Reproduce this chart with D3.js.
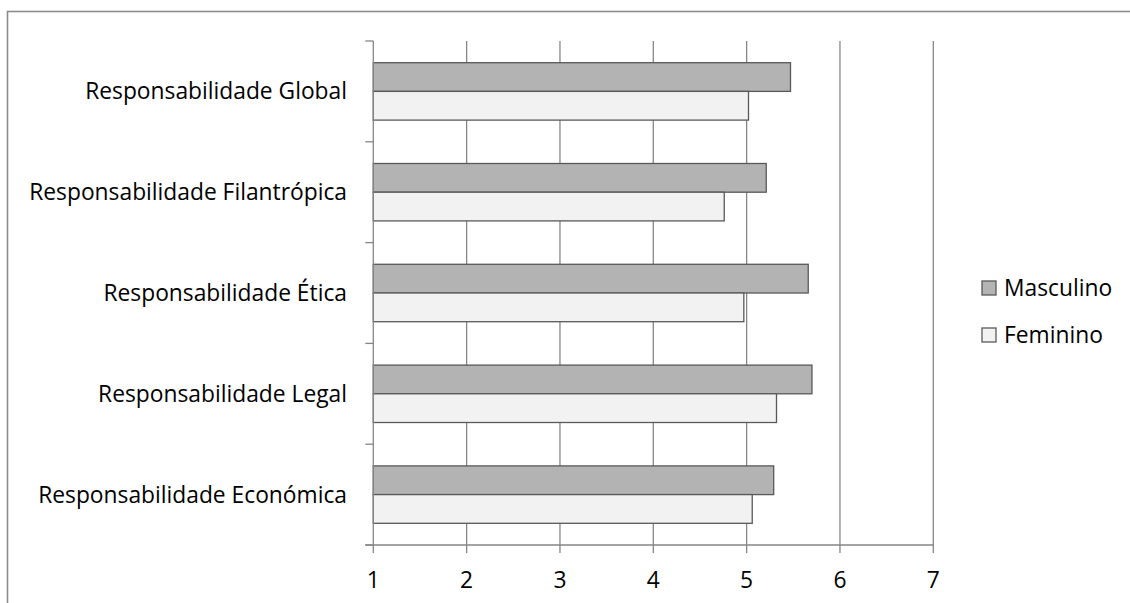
<!DOCTYPE html>
<html>
<head>
<meta charset="utf-8">
<script src="https://cdn.jsdelivr.net/npm/d3@7"></script>
<style>
  html, body { margin: 0; padding: 0; background: #fff; }
  svg { display: block; }
  text { font-family: "Open Sans", Lato, sans-serif; fill: #000; }
</style>
</head>
<body>
<svg id="chart" width="1130" height="603"></svg>
<script>
// Categories, top to bottom
const categories = [
  "Responsabilidade Global",
  "Responsabilidade Filantrópica",
  "Responsabilidade Ética",
  "Responsabilidade Legal",
  "Responsabilidade Económica"
];
const series = ["Masculino", "Feminino"];
const masculino = [5.47, 5.21, 5.66, 5.70, 5.29];
const feminino  = [5.02, 4.76, 4.97, 5.32, 5.06];
const xTicks = [1, 2, 3, 4, 5, 6, 7];

const colors = { Masculino: "#b3b3b3", Feminino: "#f2f2f2" };
const barStroke = "#595959";
const gridColor = "#868686";

const svg = d3.select("#chart");

// pick a font size so the category labels keep a Calibri-like width
const probe = svg.append("text").style("font-size", "20px").text(categories[0]);
const fontPx = 20 * 262 / probe.node().getComputedTextLength();
probe.remove();

// outer frame
svg.append("rect")
  .attr("x", 7.5).attr("y", 11.5)
  .attr("width", 1140).attr("height", 620)
  .attr("fill", "none").attr("stroke", "#8c8c8c").attr("stroke-width", 1.6);

const x = d3.scaleLinear().domain([1, 7]).range([373.3, 933.3]);
const y = d3.scaleBand().domain(categories).range([41, 545]).padding(0);
const ySub = d3.scaleBand().domain(series).range([0, y.bandwidth()])
  .paddingInner(0).paddingOuter(0.756);

const rows = categories.map((c, i) => ({ cat: c, Masculino: masculino[i], Feminino: feminino[i] }));

// vertical gridlines
svg.append("g").selectAll("line")
  .data(xTicks.slice(1))
  .join("line")
  .attr("x1", d => x(d)).attr("x2", d => x(d))
  .attr("y1", 41).attr("y2", 545)
  .attr("stroke", gridColor).attr("stroke-width", 1.3);

// bars
const groups = svg.append("g").selectAll("g")
  .data(rows)
  .join("g")
  .attr("transform", d => `translate(0,${y(d.cat)})`);

groups.selectAll("rect")
  .data(d => series.map(s => ({ s, v: d[s] })))
  .join("rect")
  .attr("x", x(1))
  .attr("y", d => ySub(d.s))
  .attr("width", d => x(d.v) - x(1))
  .attr("height", ySub.bandwidth())
  .attr("fill", d => colors[d.s])
  .attr("stroke", barStroke)
  .attr("stroke-width", 1.3);

// category axis
const yAxis = svg.append("g");
yAxis.append("line")
  .attr("x1", x(1)).attr("x2", x(1))
  .attr("y1", 41).attr("y2", 545)
  .attr("stroke", gridColor).attr("stroke-width", 1.3);
const bounds = categories.map(c => y(c)).concat([545]);
yAxis.selectAll("line.tick")
  .data(bounds)
  .join("line")
  .attr("class", "tick")
  .attr("x1", x(1) - 8).attr("x2", x(1))
  .attr("y1", d => d).attr("y2", d => d)
  .attr("stroke", gridColor).attr("stroke-width", 1.3);
yAxis.selectAll("text")
  .data(categories)
  .join("text")
  .attr("x", 347)
  .attr("y", d => y(d) + y.bandwidth() / 2)
  .attr("dy", "0.35em")
  .attr("text-anchor", "end")
  .style("font-size", fontPx + "px")
  .text(d => d);

// value axis
const xAxis = svg.append("g");
xAxis.append("line")
  .attr("x1", x(1) - 8).attr("x2", x(7))
  .attr("y1", 545).attr("y2", 545)
  .attr("stroke", gridColor).attr("stroke-width", 1.3);
xAxis.selectAll("line.tick")
  .data(xTicks)
  .join("line")
  .attr("class", "tick")
  .attr("x1", d => x(d)).attr("x2", d => x(d))
  .attr("y1", 545).attr("y2", 553)
  .attr("stroke", gridColor).attr("stroke-width", 1.3);
xAxis.selectAll("text")
  .data(xTicks)
  .join("text")
  .attr("x", d => x(d))
  .attr("y", 588)
  .attr("text-anchor", "middle")
  .style("font-size", fontPx + "px")
  .text(d => d);

// legend
const legend = svg.append("g").attr("transform", "translate(982,281)");
const li = legend.selectAll("g")
  .data(series)
  .join("g")
  .attr("transform", (d, i) => `translate(0,${i * 47})`);
li.append("rect")
  .attr("x", 0).attr("y", 0).attr("width", 14).attr("height", 14)
  .attr("fill", d => colors[d])
  .attr("stroke", barStroke).attr("stroke-width", 1.3);
li.append("text")
  .attr("x", 22).attr("y", 7)
  .attr("dy", "0.35em")
  .style("font-size", fontPx + "px")
  .text(d => d);
</script>
</body>
</html>
